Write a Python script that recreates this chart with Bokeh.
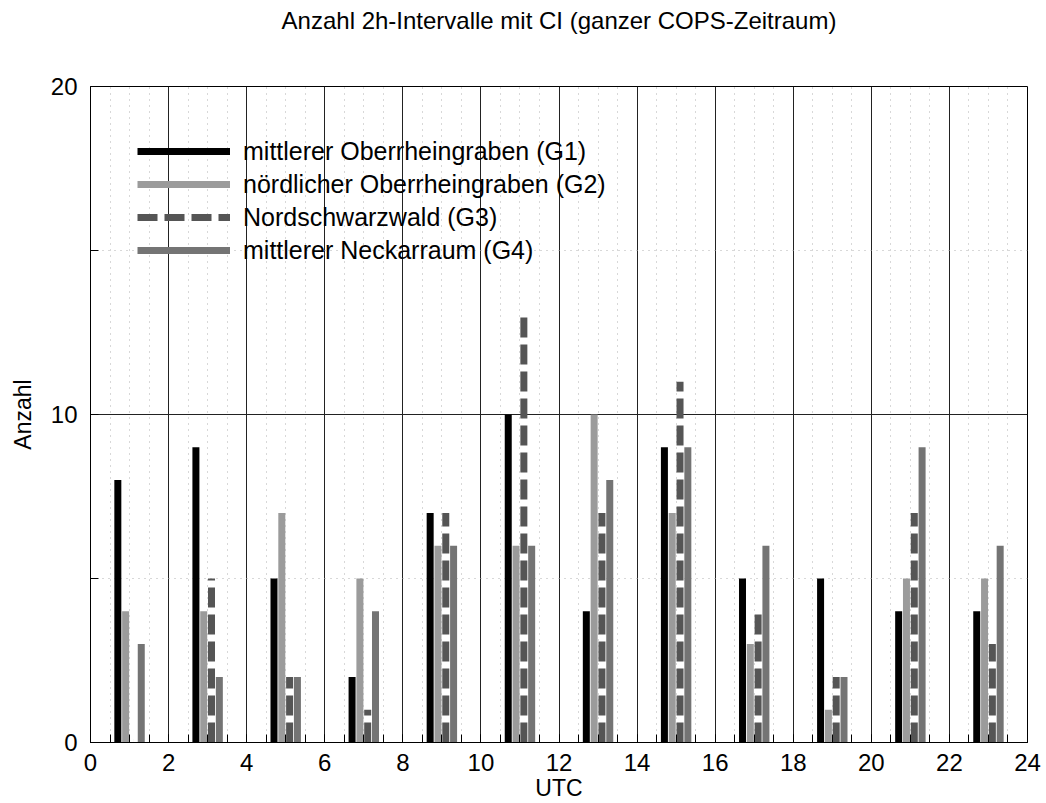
from bokeh.plotting import figure
from bokeh.models import FixedTicker, Legend, LegendItem, ColumnDataSource, Title
from bokeh.embed import file_html
from bokeh.resources import INLINE

# ---- data -------------------------------------------------------------
interval_centers = [1, 3, 5, 7, 9, 11, 13, 15, 17, 19, 21, 23]
g1_values = [8, 9, 5, 2, 7, 10, 4, 9, 5, 5, 4, 4]
g2_values = [4, 4, 7, 5, 6, 6, 10, 7, 3, 1, 5, 5]
g3_values = [0, 5, 2, 1, 7, 13, 7, 11, 4, 2, 7, 3]
g4_values = [3, 2, 2, 4, 6, 6, 8, 9, 6, 2, 9, 6]
series_names = [
    "mittlerer Oberrheingraben (G1)",
    "nördlicher Oberrheingraben (G2)",
    "Nordschwarzwald (G3)",
    "mittlerer Neckarraum (G4)",
]
x_ticks = list(range(0, 25, 2))
x_minor_ticks = [i * 0.5 for i in range(0, 49)]
y_ticks = [0, 10, 20]
y_minor_ticks = [5, 15]
title_text = "Anzahl 2h-Intervalle mit CI (ganzer COPS-Zeitraum)"
x_label_text = "UTC"
y_label_text = "Anzahl"

FONT = "Liberation Sans"

p = figure(
    width=1046, height=803,
    x_range=(0, 24), y_range=(0, 20),
    output_backend="svg", toolbar_location=None,
    min_border_left=90, min_border_right=19,
    min_border_top=86, min_border_bottom=59,
    title=title_text,
)
p.background_fill_color = "white"
p.border_fill_color = "white"
p.outline_line_color = "black"
p.outline_line_width = 1

p.title.align = "center"
p.title.text_font = FONT
p.title.text_font_size = "24px"
p.title.text_font_style = "normal"
p.title.text_color = "black"
p.title.text_line_height = 1.0
p.title.standoff = 0

# empty spacer between title and frame (keeps the title near the top edge)
p.add_layout(Title(text=" ", text_font_size="1px", standoff=50), "above")

# axes
xt = FixedTicker(ticks=x_ticks, minor_ticks=x_minor_ticks)
yt = FixedTicker(ticks=y_ticks, minor_ticks=y_minor_ticks)
p.xaxis.ticker = xt
p.yaxis.ticker = yt
p.xgrid.ticker = xt
p.ygrid.ticker = yt

for ax in (p.xaxis[0], p.yaxis[0]):
    ax.axis_line_color = "black"
    ax.axis_line_width = 1
    ax.major_tick_in = 8
    ax.major_tick_out = 0
    ax.minor_tick_in = 8
    ax.minor_tick_out = 0
    ax.major_tick_line_color = "black"
    ax.minor_tick_line_color = "black"
    ax.major_label_text_font = FONT
    ax.major_label_text_font_size = "24px"
    ax.major_label_text_color = "black"
    ax.axis_label_text_font = FONT
    ax.axis_label_text_font_size = "23px"
    ax.axis_label_text_font_style = "normal"
    ax.axis_label_text_color = "black"

p.xaxis.axis_label = x_label_text
p.yaxis.axis_label = y_label_text
p.xaxis.major_label_standoff = 11
p.xaxis.axis_label_standoff = 1
p.yaxis.major_label_standoff = 13
p.yaxis.axis_label_standoff = 12

# grids
for g in (p.xgrid[0], p.ygrid[0]):
    g.grid_line_color = "#222222"
    g.grid_line_width = 1
    g.minor_grid_line_color = "#b0b0b0"
    g.minor_grid_line_dash = "1 5"
    g.minor_grid_line_width = 1

# bars drawn as thick impulses
colors = ["#000000", "#9b9b9b", "#555555", "#747474"]
dashes = ["solid", "solid", "20 7", "solid"]
offsets = [-0.3, -0.1, 0.1, 0.3]
all_values = [g1_values, g2_values, g3_values, g4_values]

items = []
for name, vals, col, dash, off in zip(series_names, all_values, colors, dashes, offsets):
    src = ColumnDataSource(dict(
        x=[c + off for c in interval_centers],
        y0=[0] * len(vals),
        y1=vals,
    ))
    r = p.segment(x0="x", y0="y0", x1="x", y1="y1", source=src,
                  line_color=col, line_width=7, line_dash=dash, line_cap="butt")
    items.append(LegendItem(label=name, renderers=[r]))

legend = Legend(items=items, location=(47, 476))
legend.padding = 0
legend.margin = 0
legend.spacing = 1
legend.glyph_width = 93
legend.glyph_height = 32
legend.label_height = 32
legend.label_standoff = 13
legend.label_text_font = FONT
legend.label_text_font_size = "25px"
legend.label_text_color = "black"
legend.background_fill_alpha = 0
legend.border_line_alpha = 0
p.add_layout(legend)

open("out.html", "w").write(file_html(p, INLINE))
